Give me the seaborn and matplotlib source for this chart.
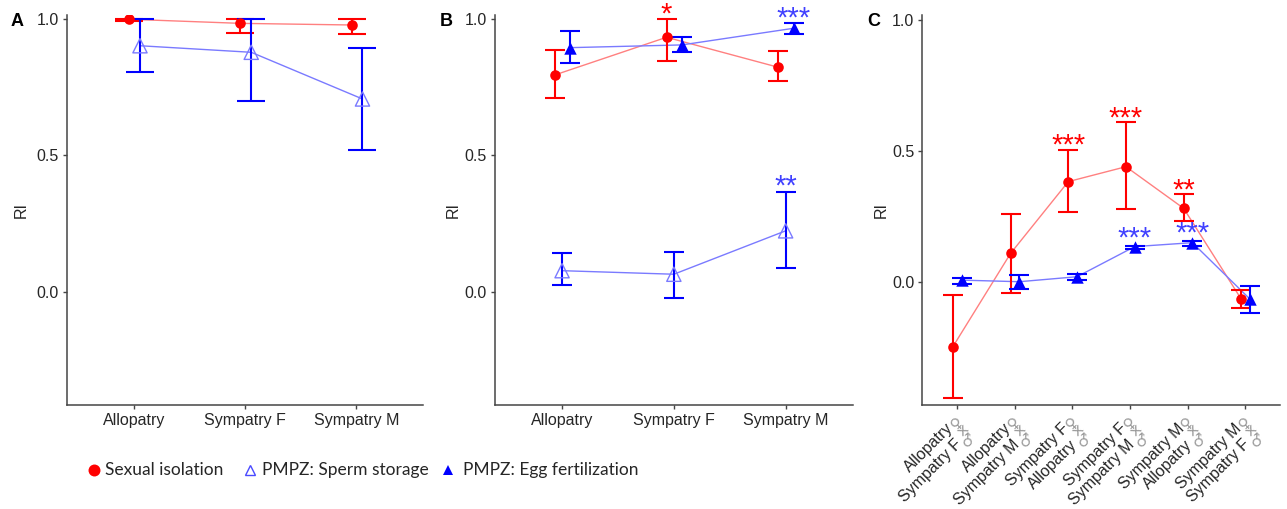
import numpy as np
import pandas as pd
import matplotlib
matplotlib.use("Agg")
import matplotlib.pyplot as plt
import seaborn as sns
from matplotlib.lines import Line2D
from matplotlib.transforms import offset_copy

# ------------------------------------------------------------------
# Data: reproductive isolation (RI) estimates with 95% CI
# ------------------------------------------------------------------
groups_ab = ["Allopatry", "Sympatry F", "Sympatry M"]

# Panel A
sexiso_a = [0.998, 0.983, 0.977]
sexiso_a_lo = [0.990, 0.949, 0.943]
sexiso_a_hi = [1.000, 1.000, 1.000]
sperm_a = [0.901, 0.877, 0.706]
sperm_a_lo = [0.804, 0.699, 0.519]
sperm_a_hi = [1.000, 1.000, 0.892]

# Panel B
sexiso_b = [0.794, 0.932, 0.822]
sexiso_b_lo = [0.708, 0.845, 0.773]
sexiso_b_hi = [0.885, 1.000, 0.882]
sperm_b = [0.077, 0.064, 0.223]
sperm_b_lo = [0.025, -0.022, 0.086]
sperm_b_hi = [0.143, 0.147, 0.364]
egg_b = [0.894, 0.904, 0.965]
egg_b_lo = [0.839, 0.877, 0.943]
egg_b_hi = [0.956, 0.932, 0.985]

# Panel C: crosses (female population x male population)
cross_female = ["Allopatry", "Allopatry", "Sympatry F", "Sympatry F", "Sympatry M", "Sympatry M"]
cross_male = ["Sympatry F", "Sympatry M", "Allopatry", "Sympatry M", "Allopatry", "Sympatry F"]
sexiso_c = [-0.248, 0.108, 0.382, 0.439, 0.280, -0.067]
sexiso_c_lo = [-0.445, -0.042, 0.265, 0.276, 0.232, -0.102]
sexiso_c_hi = [-0.051, 0.257, 0.503, 0.608, 0.335, -0.032]
egg_c = [0.006, 0.000, 0.019, 0.134, 0.149, -0.067]
egg_c_lo = [-0.009, -0.029, 0.006, 0.126, 0.137, -0.121]
egg_c_hi = [0.015, 0.026, 0.028, 0.137, 0.157, -0.016]

# Significance marks: (series, group index, label)
sig_b = [("sexiso", 1, "*"), ("egg", 2, "***"), ("sperm", 2, "**")]
sig_c = [("sexiso", 2, "***"), ("sexiso", 3, "***"), ("sexiso", 4, "**"),
         ("egg", 3, "***"), ("egg", 4, "***")]

series_names = {
    "sexiso": "Sexual isolation",
    "sperm": "PMPZ: Sperm storage",
    "egg": "PMPZ: Egg fertilization",
}

# ------------------------------------------------------------------
# Style
# ------------------------------------------------------------------
sns.set_style("ticks")
plt.rcParams["font.family"] = ["Liberation Sans", "DejaVu Sans"]

RED = "#ff0000"
BLUE = "#0000ff"
RED_LINE = "#ff8080"
BLUE_LINE = "#7a7aff"
BLUE_STAR = "#4040ff"
AXIS_COL = "#454545"
TEXT_COL = "#262626"

styles = {
    "sexiso": dict(marker="o", s=58, color=RED, edge=RED, lw=0.0, line=RED_LINE, bar=RED, star=RED),
    "sperm": dict(marker="^", s=105, color=None, edge=BLUE_LINE, lw=1.0, line=BLUE_LINE, bar=BLUE, star=BLUE_STAR),
    "egg": dict(marker="^", s=80, color=BLUE, edge=BLUE, lw=0.0, line=BLUE_LINE, bar=BLUE, star=BLUE_STAR),
}

W, H = 1287, 509
fig = plt.figure(figsize=(W / 100, H / 100), dpi=100)


def px_axes(left, top, right, bottom):
    return fig.add_axes([left / W, 1 - bottom / H, (right - left) / W, (bottom - top) / H])


axA = px_axes(67, 15, 423, 405)
axB = px_axes(495, 15, 852.7, 405)
axC = px_axes(922.3, 15, 1280, 405)


def frame(series):
    rows = []
    for key, (vals, lo, hi) in series.items():
        for i, (v, l, h) in enumerate(zip(vals, lo, hi)):
            rows.append(dict(series=key, group=i, value=v, lo=l, hi=h))
    return pd.DataFrame(rows)


panels = [
    dict(ax=axA, letter="A", n=3,
         data=frame({"sexiso": (sexiso_a, sexiso_a_lo, sexiso_a_hi),
                     "sperm": (sperm_a, sperm_a_lo, sperm_a_hi)}),
         dodge={"sexiso": -0.042, "sperm": 0.056},
         cap=10, ylim=(-0.415, 1.0136), sig=[], gap={}, ylab_px=38, letter_x=17),
    dict(ax=axB, letter="B", n=3,
         data=frame({"sexiso": (sexiso_b, sexiso_b_lo, sexiso_b_hi),
                     "egg": (egg_b, egg_b_lo, egg_b_hi),
                     "sperm": (sperm_b, sperm_b_lo, sperm_b_hi)}),
         dodge={"sexiso": -0.065, "sperm": 0.0, "egg": 0.072},
         cap=7, ylim=(-0.415, 1.0136), sig=sig_b,
         gap={"sexiso": 13, "egg": 12.5, "sperm": 14}, ylab_px=34.5, letter_x=446),
    dict(ax=axC, letter="C", n=6,
         data=frame({"sexiso": (sexiso_c, sexiso_c_lo, sexiso_c_hi),
                     "egg": (egg_c, egg_c_lo, egg_c_hi)}),
         dodge={"sexiso": -0.07, "egg": 0.082},
         cap=7, ylim=(-0.4706, 1.018), sig=sig_c,
         gap={"sexiso": 12.5, "egg": 16}, ylab_px=33.5, letter_x=874),
]

STAR_FS = 21
PT = 0.72  # points per pixel at 100 dpi

for p in panels:
    ax = p["ax"]
    df = p["data"].copy()
    df["x"] = df["group"] + df["series"].map(p["dodge"])

    for key, d in df.groupby("series", sort=False):
        st = styles[key]
        sns.lineplot(data=d, x="x", y="value", ax=ax, color=st["line"], lw=1.0,
                     sort=False, estimator=None, legend=False, zorder=2)
        ax.errorbar(d["x"], d["value"], yerr=[d["value"] - d["lo"], d["hi"] - d["value"]],
                    fmt="none", ecolor=st["bar"], elinewidth=1.5, capsize=p["cap"],
                    capthick=1.5, zorder=3)
        if st["color"] is None:
            sns.scatterplot(data=d, x="x", y="value", ax=ax, marker=st["marker"], s=st["s"],
                            facecolors="none", edgecolor=st["edge"], linewidth=st["lw"],
                            legend=False, zorder=4)
        else:
            sns.scatterplot(data=d, x="x", y="value", ax=ax, marker=st["marker"], s=st["s"],
                            color=st["color"], edgecolor=st["edge"], linewidth=st["lw"],
                            legend=False, zorder=4)

    # significance stars above the upper CI limit
    for key, idx, label in p["sig"]:
        row = df[(df["series"] == key) & (df["group"] == idx)].iloc[0]
        dy = (p["gap"][key] - 0.57 * STAR_FS / PT) * PT
        tr = offset_copy(ax.transData, fig=fig, x=0, y=dy, units="points")
        ax.text(row["x"], row["hi"], label, transform=tr, ha="center", va="baseline",
                fontsize=STAR_FS, color=styles[key]["star"], clip_on=False)

    ax.set_xlim(-0.6, p["n"] - 1 + 0.6)
    ax.set_ylim(*p["ylim"])
    ax.set_yticks([0.0, 0.5, 1.0])
    ax.set_yticklabels(["0.0", "0.5", "1.0"])
    ax.set_xticks(range(p["n"]))
    if p["n"] == 3:
        ax.set_xticklabels(groups_ab)
    else:
        ax.set_xticklabels([])
    ax.set_xlabel("")
    ax.set_ylabel("RI", fontsize=11.5, color=TEXT_COL)
    ax_w_px = ax.get_position().width * W
    ax.yaxis.set_label_coords(-p["ylab_px"] / ax_w_px, 0.5)

    for side in ["top", "right"]:
        ax.spines[side].set_visible(False)
    for side in ["left", "bottom"]:
        ax.spines[side].set_color(AXIS_COL)
        ax.spines[side].set_linewidth(1.1)
    ax.tick_params(axis="both", length=2.6, width=1.0, color=AXIS_COL,
                   labelsize=11.5, labelcolor=TEXT_COL, pad=3.2)
    ax.set_facecolor("white")

    fig.text(p["letter_x"] / W, 1 - 22 / H, p["letter"], fontsize=13, fontweight="bold",
             ha="center", va="center", color="black")

# Two-line rotated cross labels for panel C, with sex symbols
base = axC.get_xaxis_transform()
for i, (fem, mal) in enumerate(zip(cross_female, cross_male)):
    t1 = offset_copy(base, fig=fig, x=-11.2 * PT, y=-15.5 * PT, units="points")
    axC.text(i, 0, fem, transform=t1, rotation=45, rotation_mode="anchor",
             ha="right", va="top", fontsize=11.5, color=TEXT_COL, clip_on=False)
    t2 = offset_copy(base, fig=fig, x=(-11.2 + 8.3) * PT, y=(-15.5 - 16.3) * PT, units="points")
    axC.text(i, 0, mal, transform=t2, rotation=45, rotation_mode="anchor",
             ha="right", va="top", fontsize=11.5, color=TEXT_COL, clip_on=False)
    for sym, (sx, sy) in zip(["♀", "×", "♂"], [(10, -2.5), (17.5, -9.5), (23, -19.5)]):
        ts = offset_copy(base, fig=fig, x=(-11.2 + sx) * PT, y=(-15.5 + sy) * PT, units="points")
        axC.text(i, 0, sym, transform=ts, rotation=45, rotation_mode="anchor",
                 ha="center", va="center", fontsize=11, color="#9a9a9a",
                 family=["DejaVu Sans"], clip_on=False)

# Legend row beneath panels A and B
legend_items = [
    ("sexiso", 94.3, 105, dict(marker="o", markersize=8.6, color=RED, markeredgewidth=0)),
    ("sperm", 250, 261.7, dict(marker="^", markersize=7.5, markerfacecolor="none",
                               markeredgecolor="#4a4aff", markeredgewidth=1.0)),
    ("egg", 448.3, 463.3, dict(marker="^", markersize=7.5, color=BLUE, markeredgewidth=0)),
]
LEG_Y = 470
for key, mx, tx, mk in legend_items:
    fig.add_artist(Line2D([mx / W], [1 - LEG_Y / H], transform=fig.transFigure,
                          linestyle="none", **mk))
    fig.text(tx / W, 1 - LEG_Y / H, series_names[key], fontsize=12.5, family=["Lato", "DejaVu Sans"],
             ha="left", va="center", color=TEXT_COL)

fig.savefig("out.png", dpi=100, facecolor="white")
